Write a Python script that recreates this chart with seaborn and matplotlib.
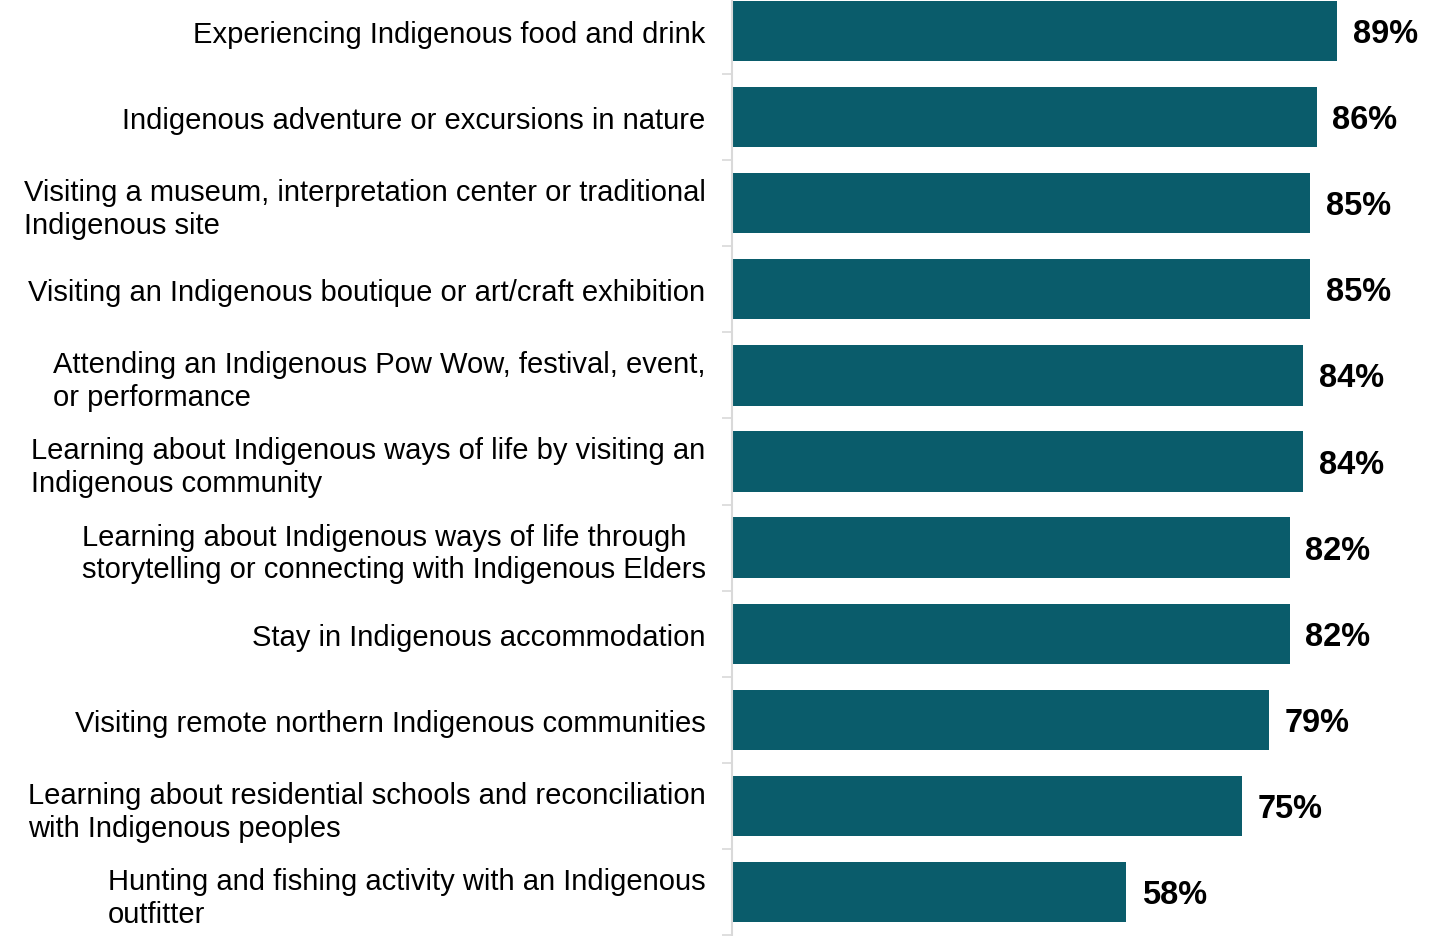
import matplotlib
matplotlib.use("Agg")
import matplotlib.pyplot as plt
import seaborn as sns
import pandas as pd
import numpy as np

activities = [
    "Experiencing Indigenous food and drink",
    "Indigenous adventure or excursions in nature",
    "Visiting a museum, interpretation center or traditional\nIndigenous site",
    "Visiting an Indigenous boutique or art/craft exhibition",
    "Attending an Indigenous Pow Wow, festival, event,\nor performance",
    "Learning about Indigenous ways of life by visiting an\nIndigenous community",
    "Learning about Indigenous ways of life through\nstorytelling or connecting with Indigenous Elders",
    "Stay in Indigenous accommodation",
    "Visiting remote northern Indigenous communities",
    "Learning about residential schools and reconciliation\nwith Indigenous peoples",
    "Hunting and fishing activity with an Indigenous\noutfitter",
]
shares = [89, 86, 85, 85, 84, 84, 82, 82, 79, 75, 58]

df = pd.DataFrame({"activity": activities, "share": shares})

sns.set_theme(style="white")
plt.rcParams["font.family"] = ["Liberation Sans", "DejaVu Sans"]

W, H = 1440, 937
fig = plt.figure(figsize=(W / 100, H / 100), dpi=100)
# axes box in pixel terms: left edge at 732, rows span from -11 to 936
left_px, right_px = 732, 732 + 680
top_px, bot_px = -11, 936
ax = fig.add_axes([left_px / W, (H - bot_px) / H,
                   (right_px - left_px) / W, (bot_px - top_px) / H])

sns.barplot(data=df, x="share", y="activity", orient="h", color="#0a5c6b",
            saturation=1, width=0.7, linewidth=0, ax=ax)

ax.set_xlim(0, 100)
ax.set_ylim(len(activities) - 0.5, -0.5)
ax.set_xlabel("")
ax.set_ylabel("")
ax.set_xticks([])

for s in ["top", "right", "bottom"]:
    ax.spines[s].set_visible(False)
ax.spines["left"].set_color("#d9d9d9")
ax.spines["left"].set_linewidth(1.5)

ax.set_yticks(np.arange(len(activities)))
ax.set_yticklabels(activities, fontsize=21, color="black")
for lbl in ax.get_yticklabels():
    lbl.set_multialignment("left")
    lbl.set_linespacing(1.22)
ax.tick_params(axis="y", which="major", length=0, pad=19)
ax.set_yticks(np.arange(len(activities)) + 0.5, minor=True)
ax.tick_params(axis="y", which="minor", length=7, width=1.2, color="#d9d9d9",
               direction="out", left=True)

for i, v in enumerate(shares):
    ax.text(v + 2.3, i + 0.03, f"{v}%", va="center", ha="left",
            fontsize=23.5, fontweight="bold", color="black")

fig.savefig("out.png", dpi=100)
